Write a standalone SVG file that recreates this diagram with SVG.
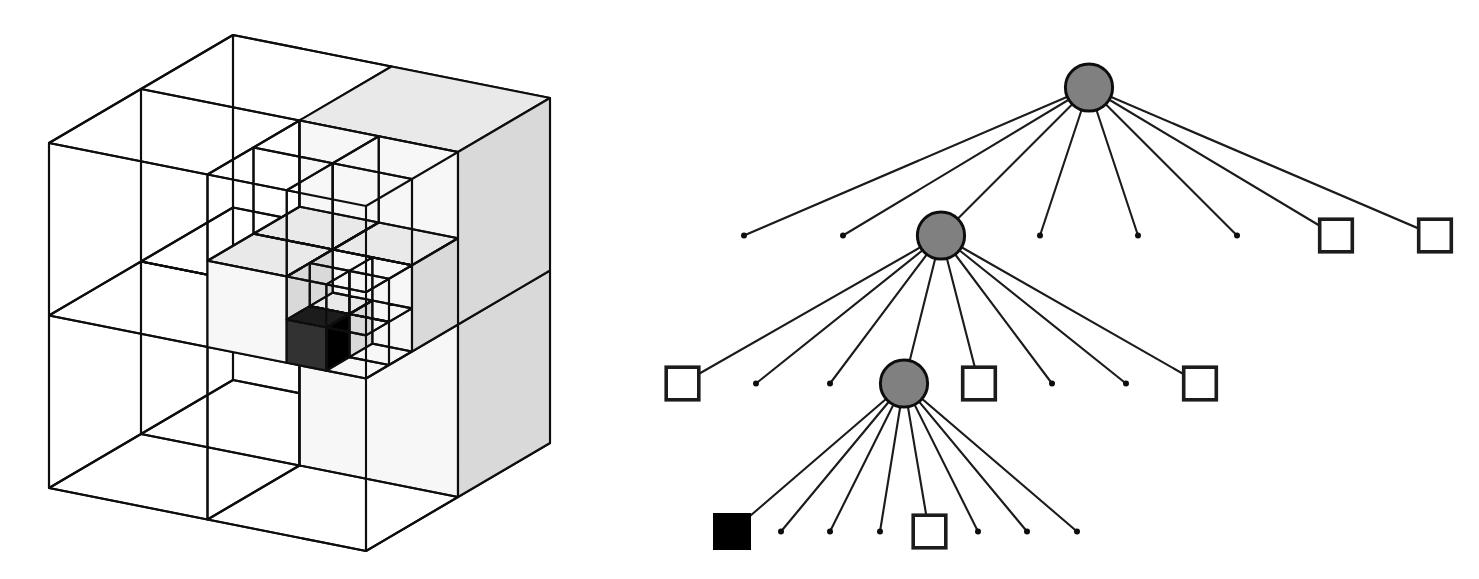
<svg xmlns="http://www.w3.org/2000/svg" xmlns:xlink="http://www.w3.org/1999/xlink" width="1479" height="579" viewBox="0 0 1479 579">
<style>
.e{fill:none;stroke:#111;stroke-width:2.1;vector-effect:non-scaling-stroke;stroke-linejoin:round}
.f{stroke:#111;stroke-width:2.1;vector-effect:non-scaling-stroke;stroke-linejoin:round}
.t{fill:#e9e9e9}.r{fill:#d9d9d9}.l{fill:#f7f7f7}
.kt{fill:#1c1c1c}.kr{fill:#000}.kl{fill:#303030}
.c{stroke:#1a1a1a;stroke-width:2.1;fill:none}
.i{fill:#808080;stroke:#111;stroke-width:3}
.s{fill:#fff;stroke:#1c1c1c;stroke-width:3.6}
.d{fill:#111}
</style>
<defs>
<filter id="soft" x="0" y="0" width="1479" height="579" filterUnits="userSpaceOnUse"><feGaussianBlur stdDeviation="0.6"/></filter>
<path id="wire" class="e" d="M0 0L317 63L501 -45L184 -108ZM0 345L317 408L501 300L184 237ZM0 0V345M317 63V408M501 -45V300M184 -108V237"/>
<g id="solid">
<polygon class="f t" points="0,0 317,63 501,-45 184,-108"/>
<polygon class="f l" points="0,0 317,63 317,408 0,345"/>
<polygon class="f r" points="317,63 501,-45 501,300 317,408"/>
</g>
<g id="dark">
<polygon class="f kt" points="0,0 317,63 501,-45 184,-108"/>
<polygon class="f kl" points="0,0 317,63 317,408 0,345"/>
<polygon class="f kr" points="317,63 501,-45 501,300 317,408"/>
</g>
</defs>
<rect width="1479" height="579" fill="#fff"/>
<g filter="url(#soft)">
<g id="octree">
<use href="#wire" transform="translate(49,143)"/>
<use href="#wire" transform="translate(141,261.5) scale(.5)"/>
<use href="#solid" transform="translate(299.5,293) scale(.5)"/>
<use href="#wire" transform="translate(49,315.5) scale(.5)"/>
<use href="#wire" transform="translate(207.5,347) scale(.5)"/>
<use href="#wire" transform="translate(141,89) scale(.5)"/>
<use href="#solid" transform="translate(299.5,120.5) scale(.5)"/>
<use href="#wire" transform="translate(49,143) scale(.5)"/>
<use href="#solid" transform="translate(253.5,233.75) scale(.25)"/>
<use href="#solid" transform="translate(332.75,249.5) scale(.25)"/>
<use href="#solid" transform="translate(207.5,260.75) scale(.25)"/>
<use href="#solid" transform="translate(309.75,306.125) scale(.125)"/>
<use href="#wire" transform="translate(349.375,314) scale(.125)"/>
<use href="#dark" transform="translate(286.75,319.625) scale(.125)"/>
<use href="#wire" transform="translate(326.375,327.5) scale(.125)"/>
<use href="#wire" transform="translate(309.75,263) scale(.125)"/>
<use href="#wire" transform="translate(349.375,270.875) scale(.125)"/>
<use href="#wire" transform="translate(286.75,276.5) scale(.125)"/>
<use href="#wire" transform="translate(326.375,284.375) scale(.125)"/>
<use href="#wire" transform="translate(253.5,147.5) scale(.25)"/>
<use href="#wire" transform="translate(332.75,163.25) scale(.25)"/>
<use href="#wire" transform="translate(207.5,174.5) scale(.25)"/>
<use href="#wire" transform="translate(286.75,190.25) scale(.25)"/>
</g>
<g id="connectors" class="c">
<path d="M1089 87.500L744 235.500M1089 87.500L843 235.500M1089 87.500L941 235.500M1089 87.500L1040 235.500M1089 87.500L1138 235.500M1089 87.500L1237 235.500M1089 87.500L1336 235.500M1089 87.500L1435 235.500"/>
<path d="M941 235.500L682 383.500M941 235.500L756 383.500M941 235.500L830 383.500M941 235.500L904 383.500M941 235.500L979 383.500M941 235.500L1052 383.500M941 235.500L1126 383.500M941 235.500L1200 383.500"/>
<path d="M904 383.500L732 531.500M904 383.500L781 531.500M904 383.500L830 531.500M904 383.500L880 531.500M904 383.500L929 531.500M904 383.500L978 531.500M904 383.500L1027 531.500M904 383.500L1077 531.500"/>
</g>
<g id="n-root"><circle class="i" cx="1089" cy="87.500" r="23.600"/></g>
<g id="n-a"><circle class="i" cx="941" cy="235.500" r="23.600"/></g>
<g id="n-b"><circle class="i" cx="904" cy="383.500" r="23.600"/></g>
<g id="n-s1"><rect class="s" x="1319.700" y="219.200" width="32.600" height="32.600"/></g>
<g id="n-s2"><rect class="s" x="1418.700" y="219.200" width="32.600" height="32.600"/></g>
<g id="n-s3"><rect class="s" x="666.200" y="367.200" width="32.600" height="32.600"/></g>
<g id="n-s4"><rect class="s" x="962.700" y="367.200" width="32.600" height="32.600"/></g>
<g id="n-s5"><rect class="s" x="1183.700" y="367.200" width="32.600" height="32.600"/></g>
<g id="n-s6"><rect class="s" x="913.200" y="515.200" width="32.600" height="32.600"/></g>
<g id="n-black"><rect x="713" y="513" width="38" height="37" fill="#000"/></g>
<g id="n-dots" class="d">
<circle cx="744" cy="235.500" r="3"/><circle cx="843" cy="235.500" r="3"/><circle cx="1040" cy="235.500" r="3"/><circle cx="1138" cy="235.500" r="3"/><circle cx="1237" cy="235.500" r="3"/>
<circle cx="756" cy="383.500" r="3"/><circle cx="830" cy="383.500" r="3"/><circle cx="1052" cy="383.500" r="3"/><circle cx="1126" cy="383.500" r="3"/>
<circle cx="781" cy="531.500" r="3"/><circle cx="830" cy="531.500" r="3"/><circle cx="880" cy="531.500" r="3"/><circle cx="978" cy="531.500" r="3"/><circle cx="1027" cy="531.500" r="3"/><circle cx="1077" cy="531.500" r="3"/>
</g>
</g>
</svg>
